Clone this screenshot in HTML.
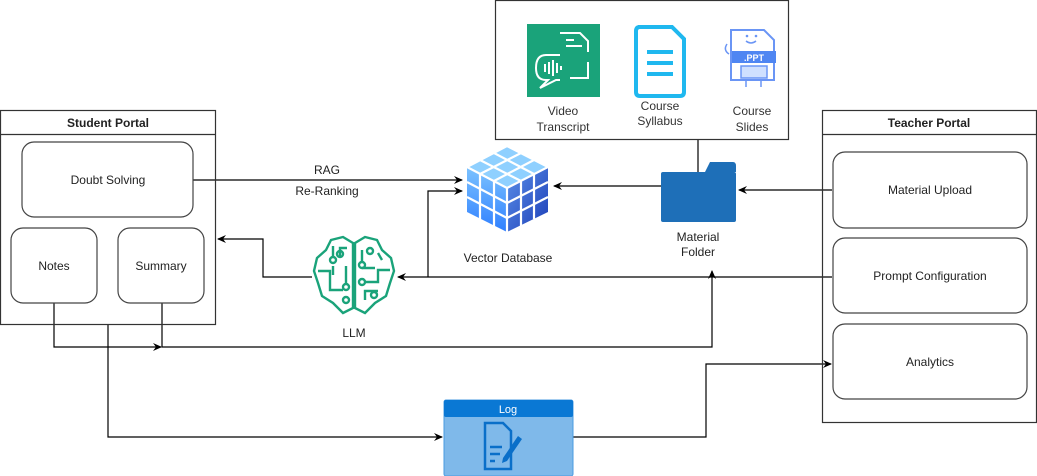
<!DOCTYPE html>
<html><head><meta charset="utf-8"><style>
html,body{margin:0;padding:0;background:#fff;}
svg{display:block;font-family:"Liberation Sans",Arial,sans-serif;}
</style></head><body>
<svg width="1037" height="476" viewBox="0 0 1037 476" xmlns="http://www.w3.org/2000/svg">
<defs>
<marker id="a" markerWidth="10" markerHeight="10" refX="8" refY="5" orient="auto" markerUnits="userSpaceOnUse">
<path d="M0,1 L9,5 L0,9 L3,5 Z" fill="#000"/></marker>
<linearGradient id="cl" x1="0" y1="0" x2="0" y2="1"><stop offset="0" stop-color="#7cc3ff"/><stop offset="1" stop-color="#2f7fff"/></linearGradient>
<linearGradient id="cr" x1="0" y1="0" x2="1" y2="1"><stop offset="0" stop-color="#5b8fe8"/><stop offset="1" stop-color="#1d3fb8"/></linearGradient>
</defs>
<g fill="none" stroke="#000" stroke-width="1.2">
<!-- connectors -->
<path d="M193,180 H462" marker-end="url(#a)"/>
<path d="M428,277 V191 H462" marker-end="url(#a)"/>
<path d="M832,277 H398" marker-end="url(#a)"/>
<path d="M312,277 H263 V239 H218" marker-end="url(#a)"/>
<path d="M661,186 H554" marker-end="url(#a)"/>
<path d="M832,190 H739" marker-end="url(#a)"/>
<path d="M698,139 V173"/>
<path d="M54,303 V347 H161" marker-end="url(#a)"/>
<path d="M162,303 V347 H712 V271" marker-end="url(#a)"/>
<path d="M108,324 V437 H442" marker-end="url(#a)"/>
<path d="M573,437 H706 V364 H831" marker-end="url(#a)"/>
</g>
<!-- student portal -->
<rect x="0.5" y="110.5" width="215" height="214" fill="none" stroke="#333" stroke-width="1.2"/>
<line x1="0" y1="134.5" x2="215" y2="134.5" stroke="#333" stroke-width="1.2"/>
<text x="108" y="127" font-size="12" font-weight="bold" text-anchor="middle" fill="#222">Student Portal</text>
<rect x="22" y="142" width="171" height="75" rx="12" fill="#fff" stroke="#444" stroke-width="1.2"/>
<text x="108" y="184" font-size="12" text-anchor="middle" fill="#222">Doubt Solving</text>
<rect x="11" y="228" width="86" height="75" rx="12" fill="#fff" stroke="#444" stroke-width="1.2"/>
<text x="54" y="270" font-size="12" text-anchor="middle" fill="#222">Notes</text>
<rect x="118" y="228" width="86" height="75" rx="12" fill="#fff" stroke="#444" stroke-width="1.2"/>
<text x="161" y="270" font-size="12" text-anchor="middle" fill="#222">Summary</text>
<!-- teacher portal -->
<rect x="822.5" y="110.5" width="214" height="312" fill="none" stroke="#333" stroke-width="1.2"/>
<line x1="822" y1="134.5" x2="1037" y2="134.5" stroke="#333" stroke-width="1.2"/>
<text x="929" y="127" font-size="12" font-weight="bold" text-anchor="middle" fill="#222">Teacher Portal</text>
<rect x="833" y="152" width="194" height="76" rx="12" fill="#fff" stroke="#444" stroke-width="1.2"/>
<text x="930" y="194" font-size="12" text-anchor="middle" fill="#222">Material Upload</text>
<rect x="833" y="238" width="194" height="75" rx="12" fill="#fff" stroke="#444" stroke-width="1.2"/>
<text x="930" y="280" font-size="12" text-anchor="middle" fill="#222">Prompt Configuration</text>
<rect x="833" y="324" width="194" height="75" rx="12" fill="#fff" stroke="#444" stroke-width="1.2"/>
<text x="930" y="366" font-size="12" text-anchor="middle" fill="#222">Analytics</text>
<!-- top box -->
<rect x="495.5" y="0.5" width="293" height="139" fill="#fff" stroke="#333" stroke-width="1.2"/>
<rect x="527" y="24" width="73" height="73" fill="#1aa37a"/>
<g fill="none" stroke="#fff" stroke-width="2">
<path d="M560,33 H580 L588,41 V52"/><path d="M566,40 H574 M566,46 H582"/>
<path d="M588,62 V78 H570"/>
<path d="M560,55 H546 Q536,55 536,68 Q536,80 546,80 H548 L540,88 L556,80 H560"/>
<path d="M545,64 V72 M549,62 V74 M553,60 V76 M557,63 V73 M561,66 V70"/>
</g>
<path d="M638,27 H672 L684,39 V92 Q684,96 680,96 H640 Q636,96 636,92 V31 Q636,27 640,27 Z" fill="#fff" stroke="#1fb8ef" stroke-width="4"/>
<path d="M647,52 H673 M647,63 H673 M647,74 H673" stroke="#1fb8ef" stroke-width="4"/>
<path d="M731,30 H764 L774,40 V80 H731 Z" fill="#fff" stroke="#6a95f5" stroke-width="2"/>
<circle cx="747" cy="36" r="1.3" fill="#6a95f5"/><circle cx="756" cy="36" r="1.3" fill="#6a95f5"/>
<path d="M746,41 Q751,45 756,41" fill="none" stroke="#6a95f5" stroke-width="1.5"/>
<rect x="732" y="51" width="44" height="12" fill="#4f86f2"/>
<text x="754" y="61" font-size="9" font-weight="bold" fill="#fff" text-anchor="middle">.PPT</text>
<rect x="741" y="66" width="26" height="12" fill="#cfe0ff" stroke="#6a95f5" stroke-width="1.5"/>
<path d="M746,80 V87 M761,80 V87" stroke="#6a95f5" stroke-width="1.5"/>
<path d="M727,44 Q723,50 729,54" fill="none" stroke="#6a95f5" stroke-width="1.5"/>
<g font-size="12" fill="#333" text-anchor="middle">
<text x="563" y="115">Video</text><text x="563" y="131">Transcript</text>
<text x="660" y="110">Course</text><text x="660" y="125">Syllabus</text>
<text x="752" y="115">Course</text><text x="752" y="131">Slides</text>
</g>
<!-- cube -->
<path d="M507,146 L548,167 L507,188 L467,167 Z" fill="#8fd0ff"/>
<path d="M467,167 L507,188 L507,232 L467,212 Z" fill="url(#cl)"/>
<path d="M507,188 L548,167 L548,212 L507,232 Z" fill="url(#cr)"/>
<g stroke="#fff" stroke-width="2.2" fill="none">
<path d="M494,153 L534,174 M480,160 L521,181 M521,153 L480,174 M534,160 L494,181"/>
<path d="M480,174 V219 M494,181 V226 M467,182 L507,203 L548,182 M467,197 L507,218 L548,197 M521,181 V226 M534,174 V219"/>
<path d="M507,146 L548,167 L507,188 L467,167 Z M507,188 V232"/>
</g>
<text x="508" y="262" font-size="12" text-anchor="middle" fill="#222">Vector Database</text>
<!-- folder -->
<path d="M705,172 L710,162 H733 Q736,162 736,166 V172 Z" fill="#1e6fb8"/>
<rect x="661" y="172" width="75" height="50" rx="2" fill="#1e6fb8"/>
<text x="698" y="241" font-size="12" text-anchor="middle" fill="#222">Material</text>
<text x="698" y="256" font-size="12" text-anchor="middle" fill="#222">Folder</text>
<!-- brain -->
<g fill="none" stroke="#1aa37a" stroke-width="2.4">
<path d="M353,243 L343,237 L331,240 L326,250 L317,258 L314,271 L318,283 L322,296 L333,303 L343,313 L353,308 Z"/>
<path d="M355,243 L365,237 L377,240 L382,250 L391,258 L394,271 L390,283 L386,296 L375,303 L365,313 L355,308 Z"/>
<path d="M333,246 V256 M333,266 V275 M318,271 H330 V290 H343 M346,266 V283 M340,258 V248 H347"/>
<circle cx="340" cy="254" r="3"/><circle cx="333" cy="260" r="3"/><circle cx="346" cy="287" r="3"/><circle cx="346" cy="300" r="3"/>
<path d="M362,250 V262 M362,268 H375 M365,282 H378 V270 H390 M365,300 V291 L378,291 M382,260 L378,253"/>
<circle cx="370" cy="251" r="3"/><circle cx="362" cy="265" r="3"/><circle cx="362" cy="282" r="3"/><circle cx="374" cy="295" r="3"/>
</g>
<text x="354" y="337" font-size="12" text-anchor="middle" fill="#222">LLM</text>
<!-- labels -->
<text x="327" y="174" font-size="12" text-anchor="middle" fill="#222">RAG</text>
<text x="327" y="195" font-size="12" text-anchor="middle" fill="#222">Re-Ranking</text>
<!-- log -->
<rect x="444" y="400" width="129" height="76" rx="2" fill="#7fb9ea" stroke="#4a9be0"/>
<rect x="444" y="400" width="129" height="17" rx="2" fill="#0a78d4"/>
<text x="508" y="413" font-size="11" text-anchor="middle" fill="#fff">Log</text>
<path d="M485,423 H503 L511,431 V469 H485 Z" fill="none" stroke="#0a6fc9" stroke-width="2.5"/>
<path d="M490,447 H502 M490,454 H500 M490,461 H495" stroke="#0a6fc9" stroke-width="2.5"/>
<path d="M503,458 L518,436 L522,439 L507,461 L502,463 Z" fill="#0a6fc9"/>
</svg>
</body></html>
